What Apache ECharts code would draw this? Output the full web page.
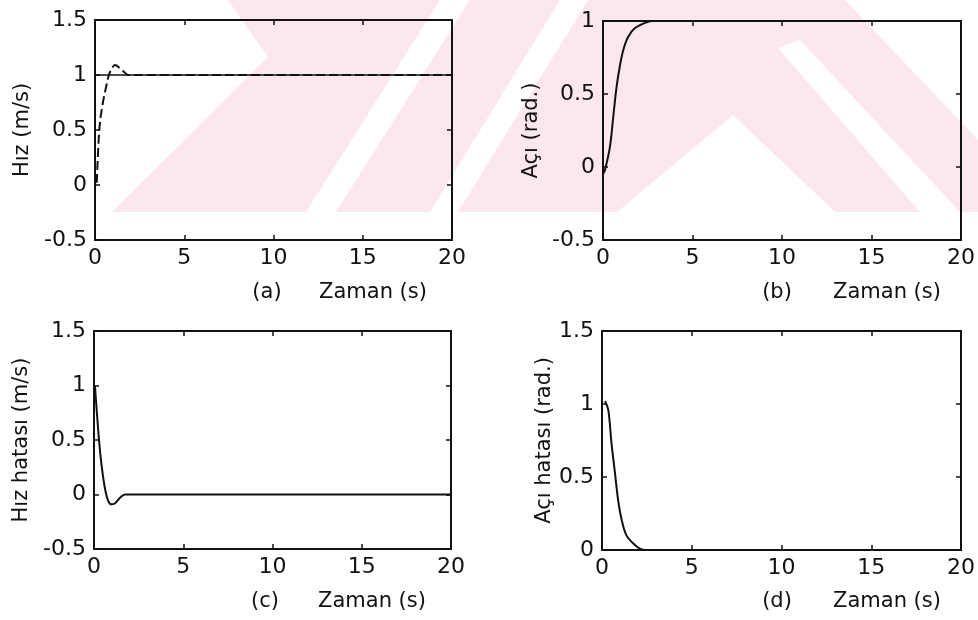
<!DOCTYPE html>
<html>
<head>
<meta charset="utf-8">
<title>Hız ve Açı Yanıtları</title>
<script src="https://cdn.jsdelivr.net/npm/echarts@6/dist/echarts.min.js"></script>
<style>
  html, body { margin: 0; padding: 0; background: #ffffff; }
  #chart { width: 978px; height: 620px; }
</style>
</head>
<body>
<div id="chart"></div>
<script>
// Time axis ticks shared by all four panels
const timeTicks = [0, 5, 10, 15, 20];

// (a) velocity: reference and measured response
const hizRefT = [0, 20];
const hizRefV = [1, 1];
const hizT = [0.1, 0.24, 0.4, 0.62, 0.78, 0.95, 1.12, 1.4, 1.68, 1.85, 20];
const hizV = [0.02, 0.5, 0.71, 0.89, 1.0, 1.06, 1.09, 1.06, 1.02, 1.0, 1.0];

// (b) heading angle response
const aciT = [0, 0.11, 0.39, 0.57, 0.76, 0.94, 1.13, 1.4, 1.77, 2.4, 2.8, 20];
const aciV = [-0.05, -0.02, 0.14, 0.34, 0.55, 0.69, 0.80, 0.89, 0.95, 0.99, 1.0, 1.0];

// (c) velocity error
const hizHataT = [0.05, 0.28, 0.43, 0.62, 0.8, 0.99, 1.18, 1.46, 1.74, 20];
const hizHataV = [1.0, 0.5, 0.26, 0.05, -0.06, -0.09, -0.08, -0.03, 0.0, 0.0];

// (d) angle error
const aciHataT = [0.17, 0.35, 0.53, 0.72, 0.9, 1.09, 1.36, 1.73, 2.1, 2.47, 20];
const aciHataV = [1.02, 0.96, 0.73, 0.53, 0.34, 0.21, 0.10, 0.046, 0.01, 0.0, 0.0];

const zip = (xs, ys) => xs.map((x, i) => [x, ys[i]]);

const FONT = 'DejaVu Sans';
const INK = '#111111';

// plot boxes
const boxes = [
  { left: 95,  top: 20,  width: 357, height: 220, ymin: -0.5, ymax: 1.5, yname: 'Hız (m/s)',         gap: 62 },
  { left: 603, top: 21,  width: 361, height: 219, ymin: -0.5, ymax: 1,   yname: 'Açı (rad.)',        gap: 61 },
  { left: 94,  top: 331, width: 357, height: 218, ymin: -0.5, ymax: 1.5, yname: 'Hız hatası (m/s)',  gap: 62 },
  { left: 602, top: 331, width: 362, height: 219, ymin: 0,    ymax: 1.5, yname: 'Açı hatası (rad.)', gap: 47 }
];

const grid = [], xAxis = [], yAxis = [];
boxes.forEach((b, i) => {
  grid.push({ left: b.left, top: b.top, width: b.width, height: b.height, containLabel: false });
  const lineStyle = { color: INK, width: 2 };
  const tick = { show: true, inside: true, length: 5, lineStyle: { color: INK, width: 1.5 } };
  // bottom axis with labels, top axis with ticks only
  xAxis.push({
    gridIndex: i, type: 'value', min: timeTicks[0], max: timeTicks[timeTicks.length - 1], interval: 5, position: 'bottom',
    axisLine: { show: true, onZero: false, lineStyle }, axisTick: tick,
    splitLine: { show: false },
    axisLabel: { color: INK, fontFamily: FONT, fontSize: 22, margin: 7 }
  });
  xAxis.push({
    gridIndex: i, type: 'value', min: timeTicks[0], max: timeTicks[timeTicks.length - 1], interval: 5, position: 'top',
    axisLine: { show: true, onZero: false, lineStyle }, axisTick: tick,
    splitLine: { show: false }, axisLabel: { show: false }
  });
  yAxis.push({
    gridIndex: i, type: 'value', min: b.ymin, max: b.ymax, interval: 0.5, position: 'left',
    axisLine: { show: true, onZero: false, lineStyle }, axisTick: tick,
    splitLine: { show: false },
    axisLabel: { color: INK, fontFamily: FONT, fontSize: 22, margin: 8 },
    name: b.yname, nameLocation: 'middle', nameGap: b.gap, nameRotate: 90,
    nameTextStyle: { color: INK, fontFamily: FONT, fontSize: 21 }
  });
  yAxis.push({
    gridIndex: i, type: 'value', min: b.ymin, max: b.ymax, interval: 0.5, position: 'right',
    axisLine: { show: true, onZero: false, lineStyle }, axisTick: tick,
    splitLine: { show: false }, axisLabel: { show: false }
  });
});

const curve = (i, data, extra) => Object.assign({
  type: 'line', xAxisIndex: i * 2, yAxisIndex: i * 2, data,
  showSymbol: false, smooth: 0.35, animation: false, z: 5,
  lineStyle: { color: INK, width: 2 }
}, extra || {});

const series = [
  curve(0, zip(hizRefT, hizRefV), { smooth: false, lineStyle: { color: INK, width: 1.5 } }),
  curve(0, zip(hizT, hizV), { lineStyle: { color: INK, width: 2, type: [9, 4] } }),
  curve(1, zip(aciT, aciV)),
  curve(2, zip(hizHataT, hizHataV)),
  curve(3, zip(aciHataT, aciHataV))
];

// Pale background emblem behind the upper panels
const PINK = '#fce8ec';
const emblem = [
  { type: 'rect', shape: { x: 0, y: 0, width: 978, height: 212 }, style: { fill: PINK } },
  { type: 'polygon', shape: { points: [[0, 0], [228, 0], [268, 57], [112, 212], [0, 212]] }, style: { fill: '#fff' } },
  { type: 'polygon', shape: { points: [[306, 212], [336, 212], [470, 0], [440, 0]] }, style: { fill: '#fff' } },
  { type: 'polygon', shape: { points: [[430, 212], [458, 212], [588, 0], [560, 0]] }, style: { fill: '#fff' } },
  { type: 'polygon', shape: { points: [[587, 212], [617, 212], [733, 115], [835, 212], [978, 212], [978, 212]] }, style: { fill: '#fff' } },
  { type: 'polygon', shape: { points: [[778, 48], [800, 40], [960, 212], [920, 212]] }, style: { fill: '#fff' } },
  { type: 'polygon', shape: { points: [[845, 0], [978, 0], [978, 140]] }, style: { fill: '#fff' } }
].map(e => Object.assign(e, { silent: true, z: -100 }));

// Panel captions under each time axis
const caption = (x, y, text) => ({
  type: 'text', x, y, z: 100, silent: true,
  style: { text, fill: INK, font: '21px "DejaVu Sans"', align: 'center', verticalAlign: 'middle' }
});
const captions = [
  caption(267, 293, '(a)'), caption(373, 293, 'Zaman (s)'),
  caption(777, 293, '(b)'), caption(887, 293, 'Zaman (s)'),
  caption(265, 602, '(c)'), caption(372, 602, 'Zaman (s)'),
  caption(777, 602, '(d)'), caption(887, 602, 'Zaman (s)')
];

const chart = echarts.init(document.getElementById('chart'), null, { renderer: 'canvas' });
chart.setOption({
  backgroundColor: '#ffffff',
  animation: false,
  grid, xAxis, yAxis, series,
  graphic: { elements: emblem.concat(captions) }
});
</script>
</body>
</html>
